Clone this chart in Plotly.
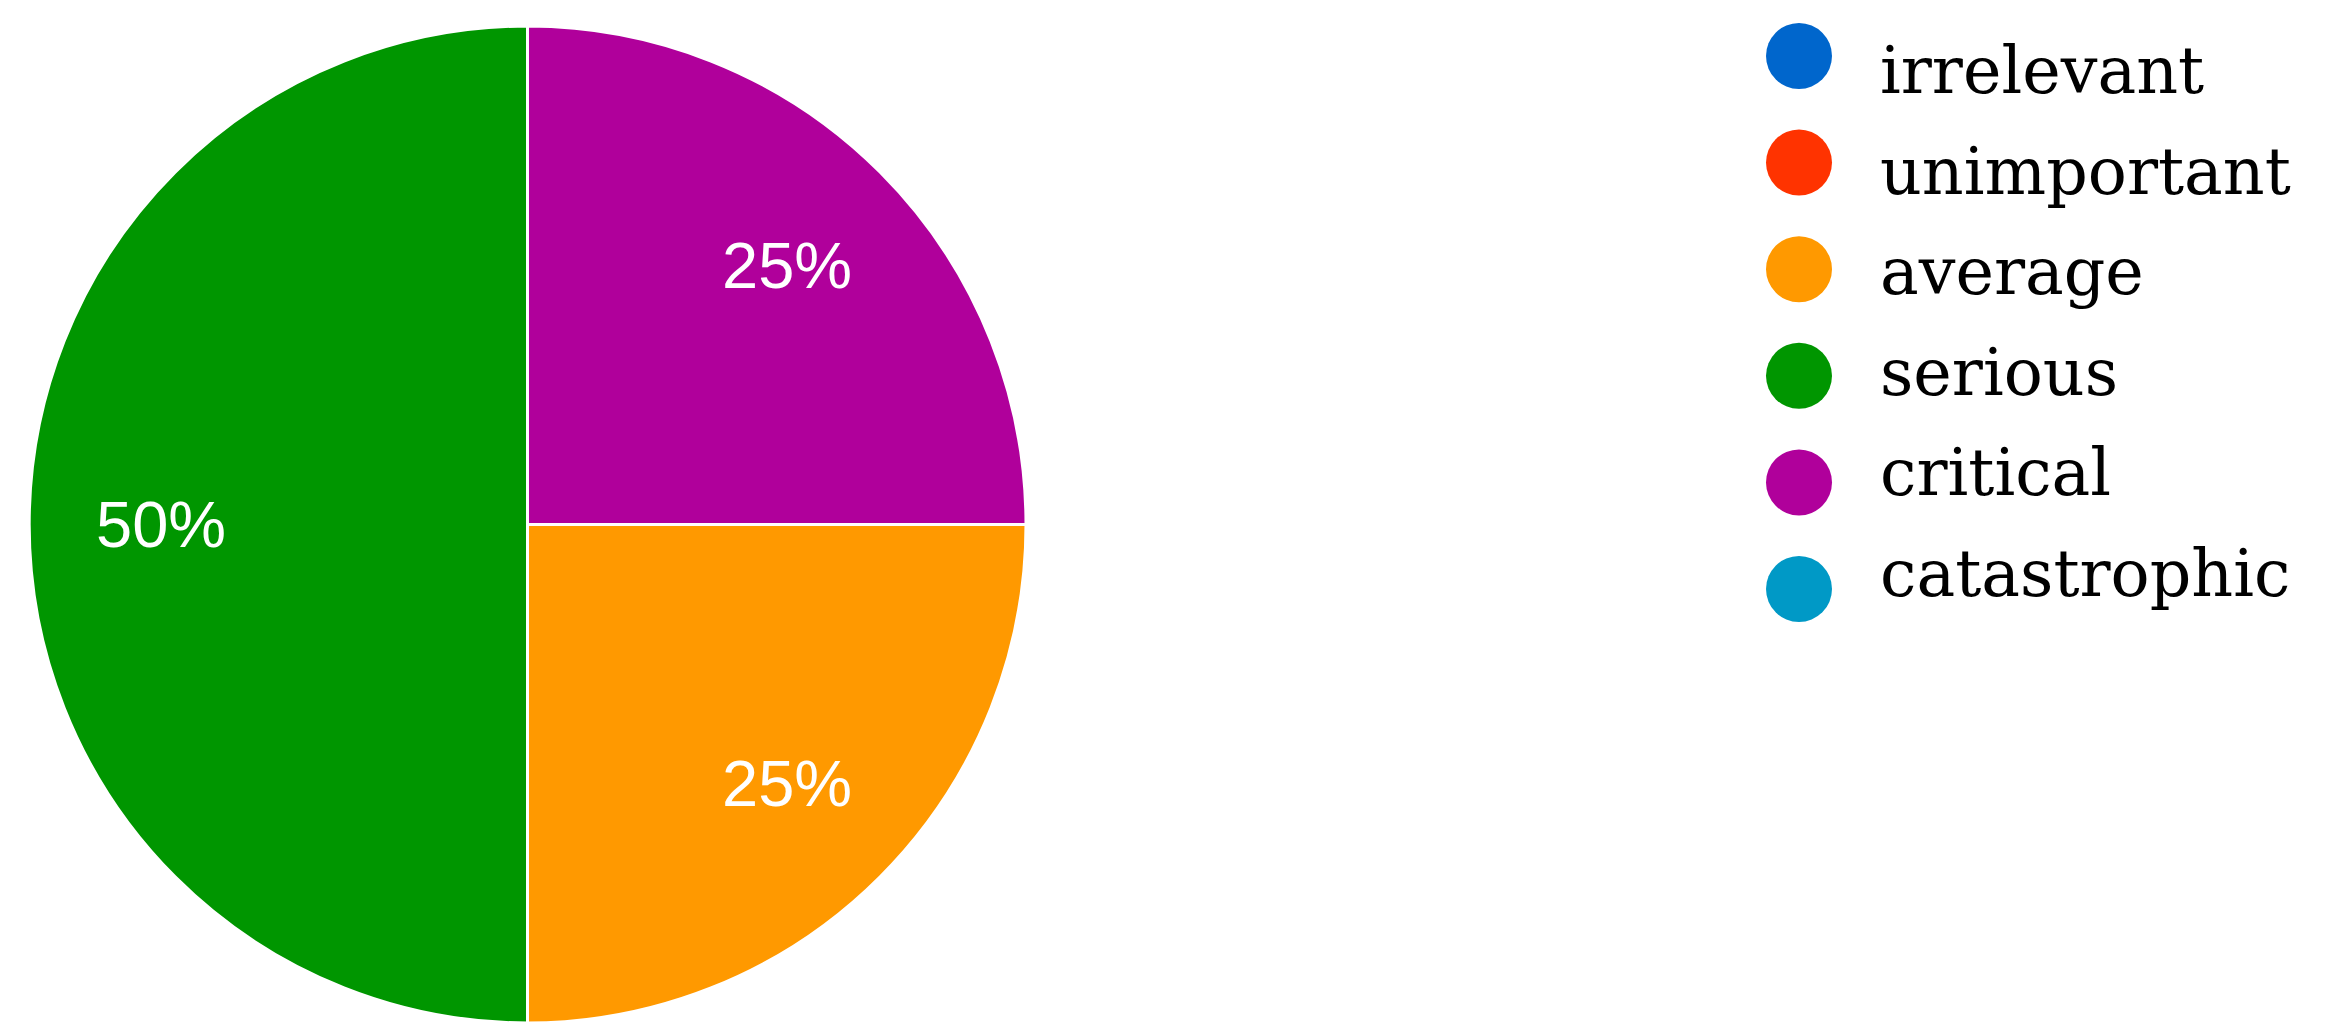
import math
import plotly.graph_objects as go

# niveaux de gravité et leur part
levels = ["irrelevant", "unimportant", "average", "serious", "critical", "catastrophic"]
counts = [0, 0, 1, 2, 1, 0]
colors = ["#0066CC", "#FF3300", "#FF9900", "#009600", "#B0009B", "#0099C6"]

W, H = 2330, 1033

# position du camembert (pixels)
px0, px1 = 21, 1018
py0, py1 = 18, 1015
cx, cy = (px0 + px1) / 2, (py0 + py1) / 2
rad = (px1 - px0) / 2

fig = go.Figure()
fig.add_trace(go.Pie(
    labels=levels, values=counts,
    marker=dict(colors=colors, line=dict(color="white", width=3)),
    sort=False, direction="clockwise", rotation=90,
    textinfo="none",
    domain=dict(x=[px0 / W, px1 / W], y=[1 - py1 / H, 1 - py0 / H]),
    showlegend=False, hoverinfo="label+percent",
))

annots = []
# pourcentages à ~0.73 du rayon, comme dans l'original
total = sum(counts)
ang = 0.0  # départ à 3h, sens horaire
for v in counts:
    if v == 0:
        continue
    frac = v / total
    mid = math.radians(ang - frac * 180)
    ang -= frac * 360
    x = cx + 0.735 * rad * math.cos(mid)
    y = cy - 0.735 * rad * math.sin(mid)
    annots.append(dict(text=f"{round(frac * 100)}%", xref="paper", yref="paper",
                       x=x / W, y=1 - y / H, xanchor="center", yanchor="middle",
                       showarrow=False,
                       font=dict(family="Liberation Sans, Arial", size=65, color="white")))

# légende faite à la main (ronds + texte)
shapes = []
for i, (lab, col) in enumerate(zip(levels, colors)):
    ccy = 48 + 106.6 * i
    shapes.append(dict(type="circle", xref="paper", yref="paper",
                       x0=(1791 - 33) / W, x1=(1791 + 33) / W,
                       y0=1 - (ccy + 33) / H, y1=1 - (ccy - 33) / H,
                       fillcolor=col, line=dict(width=0)))
    ty = 68 + 100.4 * i - 5
    annots.append(dict(text=lab, xref="paper", yref="paper",
                       x=1870 / W, y=1 - ty / H, xanchor="left", yanchor="middle",
                       showarrow=False,
                       font=dict(family="DejaVu Serif", size=65, color="black")))

fig.update_layout(width=W, height=H, margin=dict(l=0, r=0, t=0, b=0),
                  paper_bgcolor="white", plot_bgcolor="white",
                  shapes=shapes, annotations=annots)

fig.write_html("out.html")
